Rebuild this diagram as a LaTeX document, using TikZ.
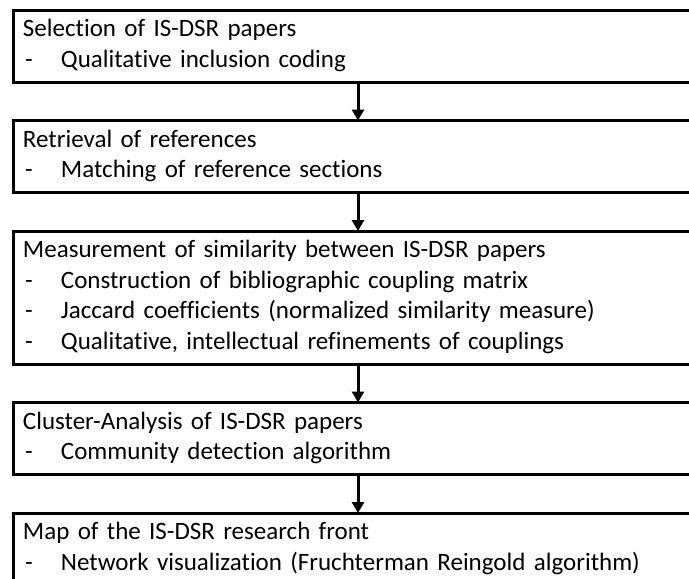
\documentclass[tikz,border=0pt]{standalone}
\usepackage{fontspec}
\setmainfont{Carlito}[Ligatures=NoCommon]
\usetikzlibrary{arrows.meta, positioning}
\newcommand{\stagetitle}[1]{\strut#1}
\newcommand{\stageitem}[1]{\\\strut\makebox[38pt][l]{\hspace{2pt}-}#1}
\tikzset{
  stagebox/.style={draw=black, line width=3pt, rectangle, outer sep=0pt,
                   text width=670pt, inner xsep=10pt, inner ysep=5.5pt, align=left,
                   font=\fontsize{25}{30.5}\selectfont},
  flowarr/.style={-{Triangle[length=11pt, width=12pt]}, line width=3pt, black},
}
\begin{document}
\begin{tikzpicture}[node distance=38.5pt]
  \useasboundingbox (0,0) rectangle (689pt,-579pt);
  \clip (0,0) rectangle (689pt,-579pt);
  \node[stagebox, anchor=north west] (sel) at (13pt,-10pt)
    {\stagetitle{Selection of IS-DSR papers}\stageitem{Qualitative inclusion coding}};
  \node[stagebox, below=of sel] (ret)
    {\stagetitle{Retrieval of references}\stageitem{Matching of reference sections}};
  \node[stagebox, below=of ret] (sim)
    {\stagetitle{Measurement of similarity between IS-DSR papers}%
     \stageitem{Construction of bibliographic coupling matrix}%
     \stageitem{Jaccard coefficients (normalized similarity measure)}%
     \stageitem{Qualitative, intellectual refinements of couplings}};
  \node[stagebox, below=of sim] (clu)
    {\stagetitle{Cluster-Analysis of IS-DSR papers}\stageitem{Community detection algorithm}};
  \node[stagebox, below=of clu] (map)
    {\stagetitle{Map of the IS-DSR research front}\stageitem{Network visualization (Fruchterman Reingold algorithm)}};
  % flow between the stages
  \draw[flowarr] (sel.south) -- (ret.north);
  \draw[flowarr] (ret.south) -- (sim.north);
  \draw[flowarr] (sim.south) -- (clu.north);
  \draw[flowarr] (clu.south) -- (map.north);
\end{tikzpicture}
\end{document}
